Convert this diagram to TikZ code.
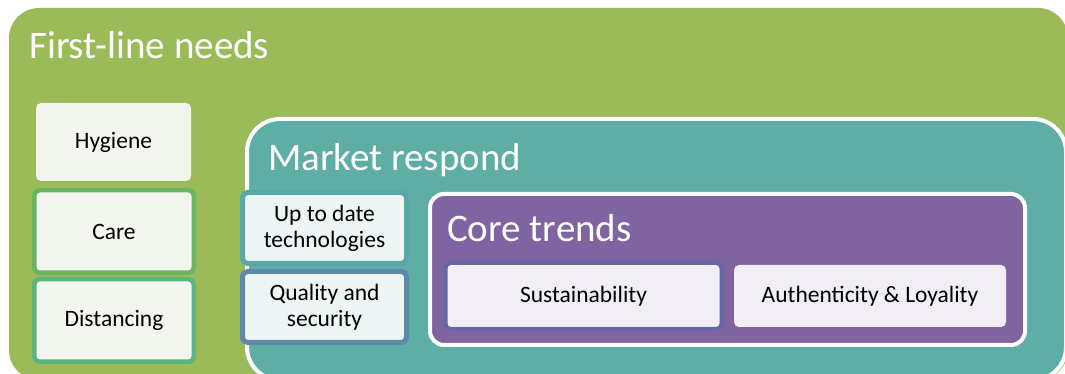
\documentclass[tikz,border=0pt]{standalone}
\usepackage{fontspec}
\setmainfont{Carlito}
\definecolor{needsgreen}{RGB}{155,187,89}
\definecolor{marketteal}{RGB}{94,174,166}
\definecolor{corepurple}{RGB}{128,100,162}
\definecolor{needsfill}{RGB}{243,246,238}
\definecolor{marketfill}{RGB}{238,246,245}
\definecolor{corefill}{RGB}{241,239,245}
\definecolor{careline}{RGB}{104,183,96}
\definecolor{distline}{RGB}{92,180,126}
\definecolor{upline}{RGB}{88,168,170}
\definecolor{qualline}{RGB}{95,136,169}
\definecolor{sustline}{RGB}{100,104,166}

\begin{document}
\begin{tikzpicture}[x=1pt, y=1pt,
    title/.style={anchor=base west, inner sep=0pt, text=white, font=\fontsize{39}{41}\selectfont},
    item/.style={rounded corners=5pt, inner sep=0pt, align=center, text=black, font=\fontsize{23.5}{26}\selectfont},
    needbox/.style={item, fill=needsfill, minimum width=159.5pt, minimum height=82.5pt, line width=4.5pt},
    marketbox/.style={item, fill=marketfill, minimum width=164pt, minimum height=71pt, line width=5pt},
    corebox/.style={item, fill=corefill, minimum width=276pt, minimum height=66pt, line width=4pt},
    panel/.style={draw=white, line width=4pt}]
    \useasboundingbox (0,0) rectangle (1065,374);
    \clip (0,0) rectangle (1065,374);
    \fill[needsgreen, rounded corners=30pt] (9,-6) rectangle (1068,366);
    \draw[panel, fill=marketteal, rounded corners=33pt] (247,-6) rectangle (1066,255);
    \draw[panel, fill=corepurple, rounded corners=14pt] (430,29) rectangle (1025,180);
    \node[title] (needs) at (29,315) {First-line needs};
    \node[title] (market) at (268,203) {Market respond};
    \node[title] (core) at (447,132) {Core trends};
    \node[needbox, minimum width=155pt, minimum height=78pt] (hygiene) at (113.5,232) {Hygiene};
    \node[needbox, draw=careline] (care) at (114,142.5) {Care};
    \node[needbox, draw=distline] (distancing) at (114,53.5) {Distancing};
    \node[marketbox, draw=upline] (uptodate) at (324.5,146) {Up to date\\technologies};
    \node[marketbox, draw=qualline] (quality) at (324.5,67) {Quality and\\security};
    \node[corebox, draw=sustline] (sustain) at (583.5,78) {Sustainability};
    \node[corebox, minimum width=272pt, minimum height=62pt] (authentic) at (870,78) {Authenticity \& Loyality};
\end{tikzpicture}
\end{document}
